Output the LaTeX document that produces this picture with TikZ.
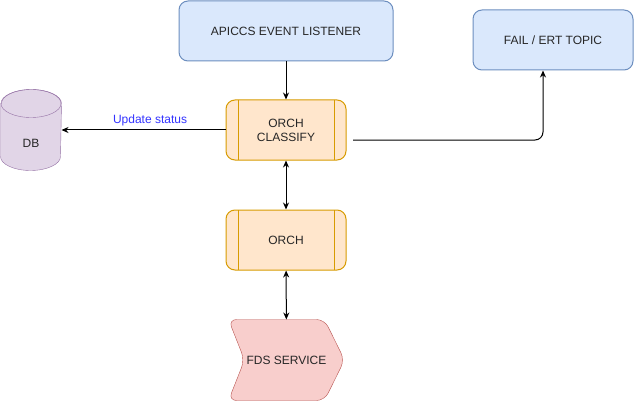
\documentclass[tikz,border=0pt]{standalone}
\usepackage{fontspec}
\setmainfont{Liberation Sans}
\usetikzlibrary{arrows.meta,backgrounds}
\definecolor{bluefill}{HTML}{DAE8FC}
\definecolor{blueline}{HTML}{6C8EBF}
\definecolor{orfill}{HTML}{FFE6CC}
\definecolor{orline}{HTML}{D79B00}
\definecolor{dbfill}{HTML}{E1D5E7}
\definecolor{dbline}{HTML}{9673A6}
\definecolor{fdsfill}{HTML}{F8CECC}
\definecolor{fdsline}{HTML}{B85450}
\definecolor{labelblue}{HTML}{3333FF}
\begin{document}
\begin{tikzpicture}[x=1pt,y=-1pt,line width=1pt,>={Stealth[length=7pt,width=6pt]},font=\fontsize{12}{14}\selectfont,
	box/.style={draw=blueline,fill=bluefill,rounded corners=9pt,minimum height=60pt,align=center,text=black!85},
	proc/.style={draw=orline,fill=orfill,rounded corners=9pt,minimum width=120pt,minimum height=60pt,align=center,text=black!85,
		path picture={\draw[orline] ([xshift=12pt]path picture bounding box.north west) -- ([xshift=12pt]path picture bounding box.south west)
			([xshift=-12pt]path picture bounding box.north east) -- ([xshift=-12pt]path picture bounding box.south east);}},
	plain/.style={inner sep=0pt,text=black!85}]
	\useasboundingbox (0,0) rectangle (634,401);
	\node[box,minimum width=214pt] (listener) at (286,31) {APICCS EVENT LISTENER};
	\node[box,minimum width=160pt] (topic) at (553,40) {FAIL / ERT TOPIC};
	\node[proc] (classify) at (286,130) {ORCH\\CLASSIFY};
	\node[proc] (orch) at (286,240) {ORCH};
	\node[plain,minimum width=115pt,minimum height=80pt] (fds) at (286.5,360) {FDS SERVICE};
	\node[plain,minimum width=60pt,minimum height=80pt,label={[plain,yshift=-13pt]center:DB}] (db) at (31,130) {};
	\begin{scope}[on background layer]
		\draw[draw=fdsline,fill=fdsfill,rounded corners=8pt] (fds.north west) -- ([xshift=-20pt]fds.north east) -- (fds.east)
			-- ([xshift=-20pt]fds.south east) -- (fds.south west) -- ([xshift=16pt]fds.west) -- cycle;
		\draw[draw=dbline,fill=dbfill] ([yshift=-14pt]db.north west) -- ([yshift=14pt]db.south west)
			arc[start angle=180,end angle=360,x radius=30pt,y radius=14pt] -- ([yshift=-14pt]db.north east)
			arc[start angle=0,end angle=180,x radius=30pt,y radius=14pt] -- cycle;
		\draw[dbline] ([yshift=-14pt]db.north) ellipse[x radius=30pt,y radius=14pt];
	\end{scope}
	\path (353,140) coordinate (S);
	\draw[->] (listener) -- (classify);
	\draw[->] (classify) -- node[pos=0.46,above=0pt,text=labelblue]{Update status} (db);
	\draw[<->] (classify) -- (orch);
	\draw[<->] (orch) -- (fds);
	\draw[->,rounded corners=8pt] (S) -| ([xshift=-10pt]topic.south);
\end{tikzpicture}
\end{document}
